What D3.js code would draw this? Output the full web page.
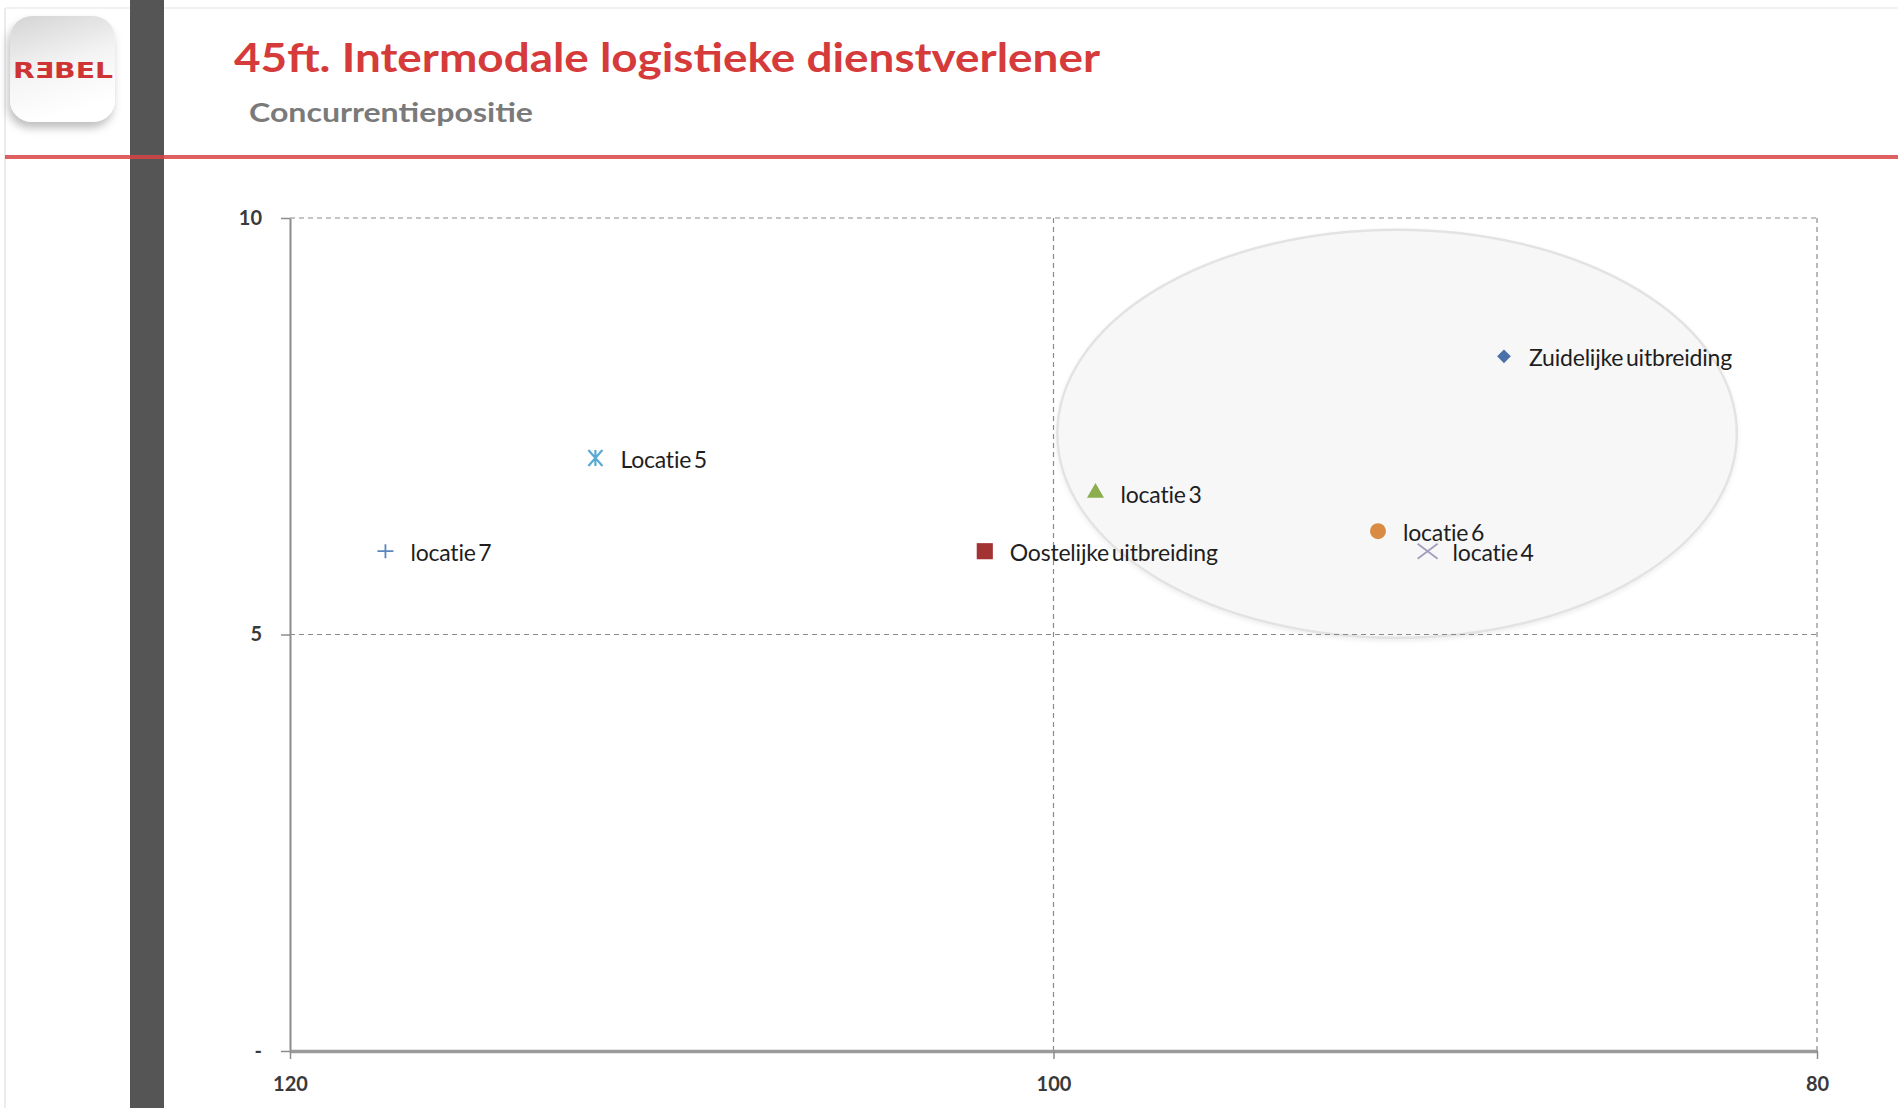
<!DOCTYPE html>
<html><head><meta charset="utf-8">
<script src="https://cdn.jsdelivr.net/npm/d3@7"></script>
<style>body{margin:0;background:#fff;} svg{display:block;}</style>
</head><body>
<svg id="c" width="1898" height="1108"></svg>
<script>
// ---- data ----
const names   = ["Zuidelijke uitbreiding","Locatie 5","locatie 3","locatie 6","locatie 4","Oostelijke uitbreiding","locatie 7"];
const xValues = [88.2, 112.0, 98.9, 91.5, 90.2, 101.8, 117.5];
const yValues = [8.34, 7.12, 6.70, 6.24, 6.0, 6.0, 6.0];
const markers = ["diamond","asterisk","triangle","circle","times","square","plus"];
const colors  = ["#4a72a8","#5aaad4","#8cae4e","#d98b43","#a39cbc","#a33232","#5a86bf"];
const xTicks = [120, 100, 80];
const yTicks = [0, 5, 10];
const yTickLabels = ["-", "5", "10"];
const zoneCenter = [91.0, 7.41];   // data units
const zoneRadii  = [8.9, 2.45];    // data units
const titleText = "45ft. Intermodale logistieke dienstverlener";
const subtitleText = "Concurrentiepositie";
const logoText = "RƎBEL";

// ---- setup ----
const svg = d3.select("#c");
const W = 1898, H = 1108;
const plot = {left: 290, right: 1817, top: 218, bottom: 1051};
const x = d3.scaleLinear().domain([120, 80]).range([plot.left, plot.right]);
const y = d3.scaleLinear().domain([0, 10]).range([plot.bottom, plot.top]);

const defs = svg.append("defs");
const lg = defs.append("linearGradient").attr("id","logoGrad").attr("x1","0").attr("y1","0").attr("x2","0.3").attr("y2","1");
lg.append("stop").attr("offset","0").attr("stop-color","#d4d4d4");
lg.append("stop").attr("offset","0.55").attr("stop-color","#f4f4f4");
lg.append("stop").attr("offset","1").attr("stop-color","#ffffff");
const sh = defs.append("filter").attr("id","shadow").attr("x","-20%").attr("y","-20%").attr("width","150%").attr("height","150%");
sh.append("feDropShadow").attr("dx",-2).attr("dy",6).attr("stdDeviation",4).attr("flood-color","#000").attr("flood-opacity",0.25);
const esh = defs.append("filter").attr("id","eshadow").attr("x","-10%").attr("y","-10%").attr("width","120%").attr("height","120%");
esh.append("feDropShadow").attr("dx",0).attr("dy",2).attr("stdDeviation",2).attr("flood-color","#000").attr("flood-opacity",0.07);

// slide frame
svg.append("rect").attr("x",0).attr("y",0).attr("width",W).attr("height",H).attr("fill","#ffffff");
svg.append("line").attr("x1",5).attr("x2",5).attr("y1",8).attr("y2",H).attr("stroke","#e6e6e6").attr("stroke-width",1.5);
svg.append("line").attr("x1",5).attr("x2",W).attr("y1",8).attr("y2",8).attr("stroke","#eeeeee").attr("stroke-width",1.5);

// dark vertical bar
svg.append("rect").attr("x",130).attr("y",0).attr("width",34).attr("height",H).attr("fill","#555555");

// logo
const logo = svg.append("g");
logo.append("rect").attr("x",10).attr("y",16).attr("width",105).attr("height",106).attr("rx",22)
  .attr("fill","url(#logoGrad)").attr("filter","url(#shadow)");
logo.append("text").attr("x",13).attr("y",78).text(logoText)
  .attr("font-family","DejaVu Sans").attr("font-weight","bold").attr("font-size",21)
  .attr("fill","#cf3434").attr("textLength",100).attr("lengthAdjust","spacingAndGlyphs");

// title + subtitle
svg.append("text").attr("x",234).attr("y",72).text(titleText)
  .attr("font-family","Lato").attr("font-weight","bold").attr("font-size",40)
  .attr("fill","#d63b3b").attr("textLength",866).attr("lengthAdjust","spacingAndGlyphs");
svg.append("text").attr("x",249).attr("y",122).text(subtitleText)
  .attr("font-family","Lato").attr("font-weight","bold").attr("font-size",27)
  .attr("fill","#7a7a7a").attr("textLength",284).attr("lengthAdjust","spacingAndGlyphs");

// red rule
svg.append("rect").attr("x",5).attr("y",155).attr("width",W-5).attr("height",4).attr("fill","#d94444").attr("opacity",0.85);

// highlight zone (ellipse)
svg.append("ellipse")
  .attr("cx", x(zoneCenter[0])).attr("cy", y(zoneCenter[1]))
  .attr("rx", Math.abs(x(zoneCenter[0] + zoneRadii[0]) - x(zoneCenter[0])))
  .attr("ry", Math.abs(y(zoneCenter[1] + zoneRadii[1]) - y(zoneCenter[1])))
  .attr("fill","#f7f7f7").attr("stroke","#e3e3e3").attr("stroke-width",2.5)
  .attr("filter","url(#eshadow)");

// gridlines (dashed)
const grid = svg.append("g").attr("stroke","#8a8a8a").attr("stroke-width",1.2).attr("stroke-dasharray","5,4");
grid.selectAll("line.h").data(yTicks.filter(d => d > 0)).join("line")
  .attr("x1", plot.left).attr("x2", plot.right).attr("y1", d => y(d)).attr("y2", d => y(d));
grid.selectAll("line.v").data(xTicks.filter(d => d !== 120)).join("line")
  .attr("y1", plot.top).attr("y2", plot.bottom).attr("x1", d => x(d)).attr("x2", d => x(d));

// axes
const yAxis = d3.axisLeft(y).tickValues(yTicks).tickFormat((d,i) => yTickLabels[i]).tickSize(9).tickSizeOuter(0).tickPadding(19);
const gy = svg.append("g").attr("transform",`translate(${plot.left},0)`).call(yAxis);
gy.select(".domain").attr("stroke","#8c8c8c").attr("stroke-width",2);
gy.selectAll(".tick line").attr("stroke","#8c8c8c").attr("stroke-width",1.5);
gy.selectAll(".tick text").attr("font-family","Lato").attr("font-weight","bold").attr("font-size",20).attr("fill","#3a3a3a");

const xAxis = d3.axisBottom(x).tickValues(xTicks).tickSize(8).tickSizeOuter(0).tickPadding(18);
const gx = svg.append("g").attr("transform",`translate(0,${plot.bottom})`).call(xAxis);
gx.select(".domain").attr("stroke","#9a9a9a").attr("stroke-width",3.5);
gx.selectAll(".tick line").attr("stroke","#8c8c8c").attr("stroke-width",1.5);
gx.selectAll(".tick text").attr("font-family","Lato").attr("font-weight","bold").attr("font-size",20).attr("fill","#3a3a3a");

// markers
const points = names.map((n,i) => ({name:n, x:xValues[i], y:yValues[i], m:markers[i], c:colors[i]}));
const symbolSizes = {diamond:120, triangle:125, circle:200, square:260};
const symbolTypes = {diamond: d3.symbolDiamond2 || d3.symbolDiamond, triangle: d3.symbolTriangle, circle: d3.symbolCircle, square: d3.symbolSquare};
function strokeMarker(type){
  const p = d3.path();
  if (type === "plus") { p.moveTo(-8,0); p.lineTo(8,0); p.moveTo(0,-7); p.lineTo(0,7); }
  else if (type === "times") { p.moveTo(-10,-7.5); p.lineTo(10,7.5); p.moveTo(-10,7.5); p.lineTo(10,-7.5); }
  else if (type === "asterisk") { p.moveTo(-7,-8); p.lineTo(7,8); p.moveTo(-7,8); p.lineTo(7,-8); p.moveTo(0,-8); p.lineTo(0,8); }
  return p.toString();
}
const mg = svg.append("g");
points.forEach(d => {
  const g = mg.append("g").attr("transform",`translate(${x(d.x)},${y(d.y)})`);
  if (symbolTypes[d.m]) {
    g.append("path").attr("d", d3.symbol().type(symbolTypes[d.m]).size(symbolSizes[d.m])()).attr("fill", d.c);
  } else {
    g.append("path").attr("d", strokeMarker(d.m)).attr("fill","none").attr("stroke", d.c).attr("stroke-width", d.m === "asterisk" ? 2.2 : 1.8);
  }
});

// labels
svg.append("g").selectAll("text").data(points).join("text")
  .attr("x", d => x(d.x) + 25).attr("y", d => y(d.y) + 1)
  .attr("dominant-baseline","central")
  .attr("font-family","Lato").attr("font-size",23).attr("letter-spacing","-0.2px").attr("word-spacing","-3px")
  .attr("fill","#1e1e1e").text(d => d.name);
</script>
</body></html>
